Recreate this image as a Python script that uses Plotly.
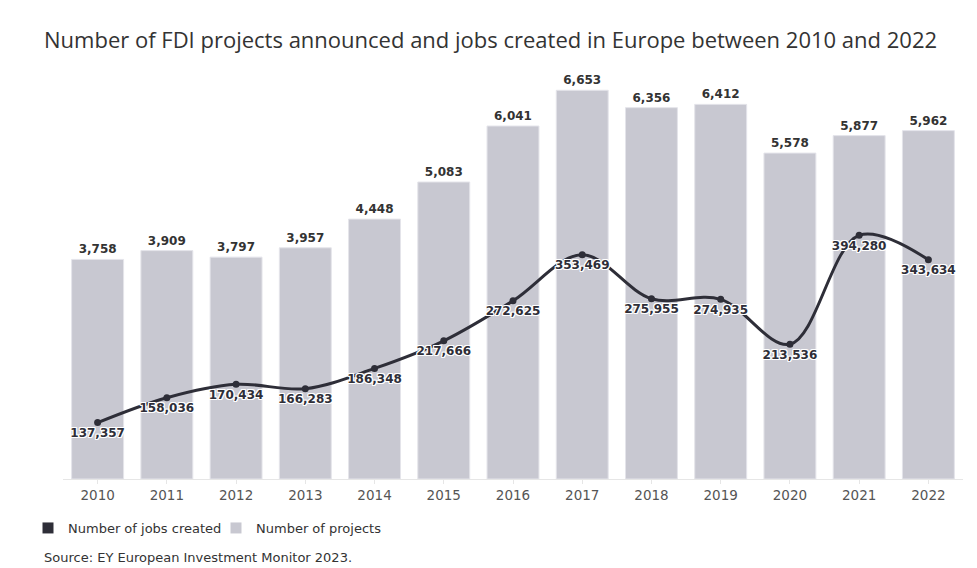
import plotly.graph_objects as go

years = ["2010", "2011", "2012", "2013", "2014", "2015", "2016", "2017", "2018", "2019", "2020", "2021", "2022"]
projects = [3758, 3909, 3797, 3957, 4448, 5083, 6041, 6653, 6356, 6412, 5578, 5877, 5962]
jobs = [137357, 158036, 170434, 166283, 186348, 217666, 272625, 353469, 275955, 274935, 213536, 394280, 343634]

BAR_COLOR = "#c8c8d1"
LINE_COLOR = "#2e2e38"
FONT = "DejaVu Sans"
halo = "-1px -1px 0 #fff, 1px -1px 0 #fff, -1px 1px 0 #fff, 1px 1px 0 #fff, 0 1px 0 #fff, 0 -1px 0 #fff, 1px 0 0 #fff, -1px 0 0 #fff"

W, H = 977, 568

fig = go.Figure()
fig.add_trace(go.Bar(
    x=years, y=projects, name="Number of projects",
    marker=dict(color=BAR_COLOR, line=dict(color="#e4e4ea", width=1)),
    text=[f"{v:,}" for v in projects], textposition="outside",
    textfont=dict(family=FONT, size=12, color="#333333", weight="bold"),
    cliponaxis=False, showlegend=False, hoverinfo="skip",
))
fig.add_trace(go.Scatter(
    x=years, y=jobs, name="Number of jobs created", yaxis="y2",
    mode="lines+markers+text",
    line=dict(color=LINE_COLOR, width=3, shape="spline", smoothing=1),
    marker=dict(color=LINE_COLOR, size=7),
    text=[f"{v:,}" for v in jobs], textposition="bottom center",
    textfont=dict(family=FONT, size=12, color="#2e2e38", weight="bold", shadow=halo),
    cliponaxis=False, showlegend=False,
))
# legend entries
fig.add_trace(go.Scatter(x=[None], y=[None], mode="markers", name="Number of jobs created",
                         marker=dict(symbol="square", size=11, color=LINE_COLOR)))
fig.add_trace(go.Scatter(x=[None], y=[None], mode="markers", name="Number of projects",
                         marker=dict(symbol="square", size=11, color=BAR_COLOR)))

fig.update_layout(
    width=W, height=H,
    margin=dict(l=63, r=14, t=70, b=89, autoexpand=False),
    paper_bgcolor="white", plot_bgcolor="white",
    font=dict(family=FONT, color="#333333"),
    bargap=0.25,
    title=dict(text="Number of FDI projects announced and jobs created in Europe between 2010 and 2022",
               font=dict(family="Open Sans", size=22, color="#333333"),
               xref="container", x=44/W, xanchor="left",
               yref="container", y=1 - 40/H, yanchor="middle"),
    xaxis=dict(type="category", range=[-0.5, 12.5], showgrid=False, showline=True,
               linecolor="#e6e6e6", linewidth=1,
               ticks="outside", ticklen=4, tickcolor="#e6e6e6",
               tickfont=dict(family=FONT, size=13.5, color="#555555")),
    yaxis=dict(range=[0, 7000], visible=False, showgrid=False),
    yaxis2=dict(type="log", range=[5, 6], overlaying="y", visible=False, showgrid=False),
    legend=dict(orientation="h", xref="container", yref="container", x=28/W, y=1 - 513/H,
                xanchor="left", yanchor="top", font=dict(family=FONT, size=13, color="#333333"),
                itemwidth=30, tracegroupgap=0, entrywidth=143),
    annotations=[dict(text="Source: EY European Investment Monitor 2023.",
                      xref="paper", yref="paper", x=(42 - 63) / 900, y=(479 - 557) / 409,
                      showarrow=False, xanchor="left", yanchor="middle",
                      font=dict(family=FONT, size=13, color="#333333"))],
)
fig.write_html("out.html", config={"displayModeBar": False},
               post_script="document.body.style.margin='0';document.body.style.overflow='hidden';")
